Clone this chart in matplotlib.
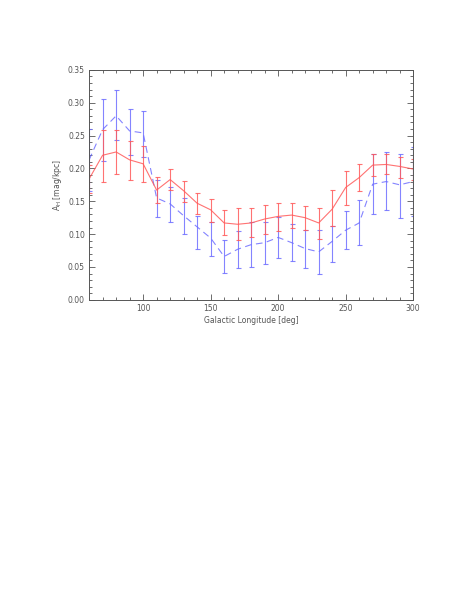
import numpy as np
import matplotlib
matplotlib.use('Agg')
import matplotlib.pyplot as plt
from matplotlib.ticker import MultipleLocator

lon = [60, 70, 80, 90, 100, 110, 120, 130, 140, 150, 160, 170, 180, 190, 200,
       210, 220, 230, 240, 250, 260, 270, 280, 290, 300]

# solid red curve and its error bar ends
red = [0.184, 0.220, 0.225, 0.213, 0.207, 0.167, 0.183, 0.166, 0.147, 0.137,
       0.117, 0.115, 0.117, 0.123, 0.127, 0.129, 0.125, 0.117, 0.138, 0.171,
       0.186, 0.205, 0.206, 0.203, 0.199]
red_hi = [0.205, 0.259, 0.258, 0.241, 0.234, 0.187, 0.199, 0.181, 0.162, 0.153,
          0.136, 0.139, 0.139, 0.145, 0.148, 0.148, 0.143, 0.139, 0.167, 0.196,
          0.207, 0.222, 0.222, 0.218, 0.215]
red_lo = [0.163, 0.179, 0.192, 0.182, 0.179, 0.147, 0.167, 0.149, 0.130, 0.119,
          0.098, 0.091, 0.095, 0.100, 0.105, 0.109, 0.106, 0.093, 0.112, 0.145,
          0.166, 0.188, 0.191, 0.186, 0.183]

# dashed blue curve and its error bar ends
blue = [0.213, 0.259, 0.280, 0.257, 0.254, 0.155, 0.146, 0.128, 0.111, 0.094,
        0.066, 0.077, 0.084, 0.087, 0.095, 0.087, 0.078, 0.073, 0.089, 0.106,
        0.117, 0.176, 0.180, 0.175, 0.180]
blue_hi = [0.260, 0.305, 0.320, 0.290, 0.287, 0.182, 0.172, 0.155, 0.127, 0.119,
           0.091, 0.104, 0.118, 0.118, 0.126, 0.115, 0.107, 0.106, 0.113, 0.135,
           0.152, 0.222, 0.225, 0.222, 0.232]
blue_lo = [0.166, 0.211, 0.243, 0.221, 0.218, 0.126, 0.119, 0.100, 0.078, 0.066,
           0.041, 0.048, 0.050, 0.055, 0.063, 0.059, 0.049, 0.040, 0.057, 0.077,
           0.083, 0.130, 0.137, 0.124, 0.128]

RED = '#ff5a5a'
BLUE = '#6e6eff'
GREY = '#555555'

fig = plt.figure(figsize=(4.69, 6.07), dpi=100)
ax = fig.add_axes([0.190, 0.506, 0.691, 0.379])

def draw(y, hi, lo, color, ls):
    y = np.array(y)
    err = [y - np.array(lo), np.array(hi) - y]
    ax.errorbar(lon, y, yerr=err, color=color, ls=ls, lw=0.8,
                elinewidth=0.8, capsize=1.8, capthick=0.8, alpha=0.85)

draw(blue, blue_hi, blue_lo, BLUE, (0, (6, 4)))
draw(red, red_hi, red_lo, RED, '-')

ax.set_xlim(60, 300)
ax.set_ylim(0, 0.35)
ax.xaxis.set_major_locator(MultipleLocator(50))
ax.xaxis.set_minor_locator(MultipleLocator(10))
ax.yaxis.set_major_locator(MultipleLocator(0.05))
ax.yaxis.set_minor_locator(MultipleLocator(0.01))
ax.yaxis.set_major_formatter(matplotlib.ticker.FormatStrFormatter('%.2f'))
ax.tick_params(which='both', direction='in', top=True, right=True,
               color=GREY, labelcolor=GREY, labelsize=5.5, width=0.6, pad=3)
ax.tick_params(which='major', length=4.5)
ax.tick_params(which='minor', length=2.2)
for s in ax.spines.values():
    s.set_color(GREY)
    s.set_linewidth(0.7)

ax.set_xlabel('Galactic Longitude [deg]', fontsize=5.5, color=GREY, labelpad=2)
ax.set_ylabel(r'A$_\mathrm{H}$ [mag/kpc]', fontsize=5.5, color=GREY, labelpad=3)

fig.savefig('out.png', dpi=100)
